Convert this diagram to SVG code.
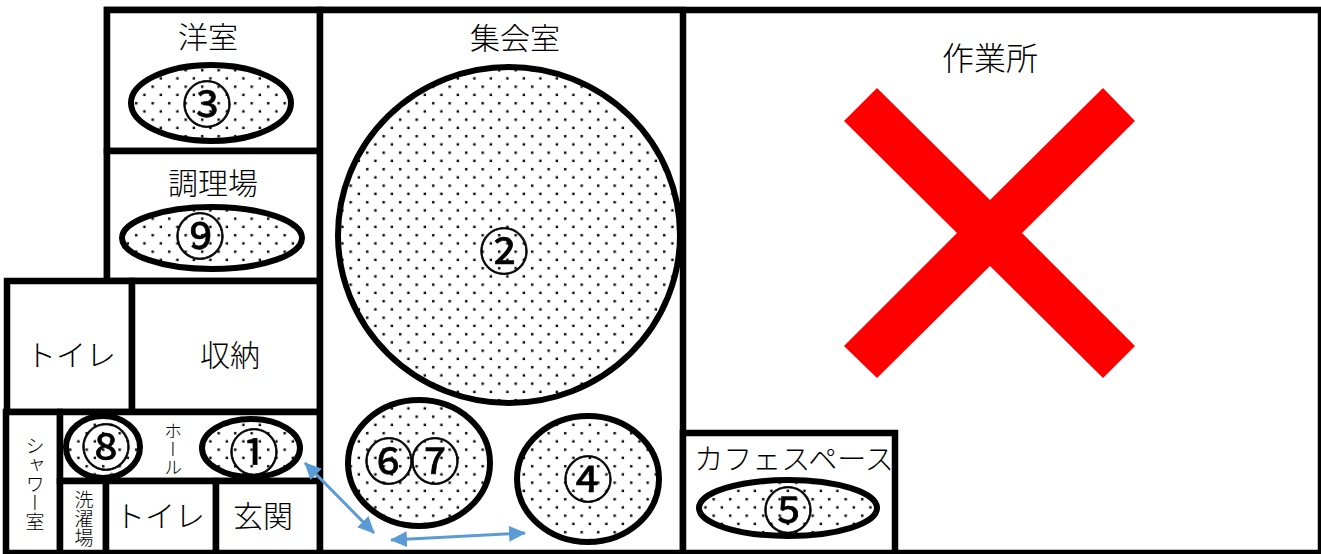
<svg xmlns="http://www.w3.org/2000/svg" width="1321" height="554" viewBox="0 0 1321 554">
<style>
.room{fill:#fff;stroke:#000;stroke-width:6.5}
.spot{fill:url(#dots);stroke:#000;stroke-width:6}
text{font-family:"Noto Sans CJK JP","Noto Sans",sans-serif;fill:#000;text-anchor:middle;font-weight:300}
.l{font-size:30px}
.n{font-size:50px;font-weight:400;stroke:#000;stroke-width:.7}
.v{writing-mode:vertical-rl}
.a{stroke:#5b9bd5;stroke-width:3;fill:none;marker-start:url(#ah);marker-end:url(#ah)}
</style>
<defs>
<pattern id="dots" width="16.5" height="16.5" patternUnits="userSpaceOnUse">
<rect width="16.5" height="16.5" fill="#fff"/>
<rect x="3" y="3" width="2.4" height="2.4" fill="#000"/>
<rect x="11.2" y="11.2" width="2.4" height="2.4" fill="#000"/>
</pattern>
<marker id="ah" markerUnits="userSpaceOnUse" markerWidth="18" markerHeight="16" refX="16" refY="8" orient="auto-start-reverse">
<path d="M0 0L17 8L0 16Z" fill="#5b9bd5"/>
</marker>
</defs>
<g id="room-main"><rect class="room" x="107" y="10" width="1214" height="543"/></g>
<g id="room-washitsu"><rect class="room" x="107" y="10" width="213" height="141"/><text class="l" x="208" y="48">洋室</text></g>
<g id="room-kitchen"><rect class="room" x="107" y="151" width="213" height="130"/><text class="l" x="213" y="194">調理場</text></g>
<g id="room-toilet1"><rect class="room" x="7" y="281" width="125" height="131"/><text class="l" x="71" y="366">トイレ</text></g>
<g id="room-storage"><rect class="room" x="132" y="281" width="188" height="131"/><text class="l" x="230" y="366">収納</text></g>
<g id="room-shower"><rect class="room" x="6" y="412" width="54" height="141"/><text class="v" x="35" y="484" font-size="19">シャワー室</text></g>
<g id="room-hall"><rect class="room" x="60" y="412" width="260" height="69"/><text class="v" x="173" y="449" font-size="18">ホール</text></g>
<g id="room-laundry"><rect class="room" x="60" y="481" width="46" height="72"/><text class="v" x="84" y="519" font-size="19">洗濯場</text></g>
<g id="room-toilet2"><rect class="room" x="106" y="481" width="110" height="72"/><text class="l" x="160" y="527">トイレ</text></g>
<g id="room-entrance"><rect class="room" x="216" y="481" width="104" height="72"/><text class="l" x="263" y="527">玄関</text></g>
<g id="room-assembly"><rect class="room" x="320" y="10" width="363" height="543"/><text class="l" x="515" y="49">集会室</text></g>
<g id="room-workshop"><text x="990" y="70" font-size="32">作業所</text></g>
<g id="room-cafe"><rect class="room" x="683" y="433" width="212" height="120"/><text x="794" y="470" font-size="29">カフェスペース</text></g>
<g id="spot-3"><ellipse class="spot" cx="211" cy="103" rx="80" ry="38"/><text class="n" x="207" y="123">③</text></g>
<g id="spot-9"><ellipse class="spot" cx="212" cy="238" rx="90" ry="31"/><text class="n" x="200" y="255">⑨</text></g>
<g id="spot-2"><ellipse class="spot" cx="509" cy="235" rx="171" ry="168"/><text class="n" x="504" y="270">②</text></g>
<g id="spot-8"><ellipse class="spot" cx="103" cy="447" rx="37" ry="31"/><text class="n" x="106" y="466">⑧</text></g>
<g id="spot-1"><ellipse class="spot" cx="251" cy="448" rx="49" ry="29"/><text class="n" x="254" y="471">①</text></g>
<g id="spot-67"><ellipse class="spot" cx="419" cy="463" rx="71" ry="63"/><text class="n" x="389" y="480">⑥</text><text class="n" x="435" y="480">⑦</text></g>
<g id="spot-4"><ellipse class="spot" cx="588" cy="479" rx="71" ry="63"/><text class="n" x="588" y="498">④</text></g>
<g id="spot-5"><ellipse class="spot" cx="788" cy="508" rx="89" ry="28"/><text class="n" x="788" y="529">⑤</text></g>
<g id="cross"><path d="M844 121L877 88L990 200L1103 88L1135 121L1022 233L1135 346L1103 378L990 266L877 378L844 346L957 233Z" fill="#f00"/></g>
<g id="connectors">
<line class="a" x1="305" y1="463" x2="374" y2="533"/>
<line class="a" x1="391" y1="540" x2="525" y2="533"/>
</g>
</svg>
